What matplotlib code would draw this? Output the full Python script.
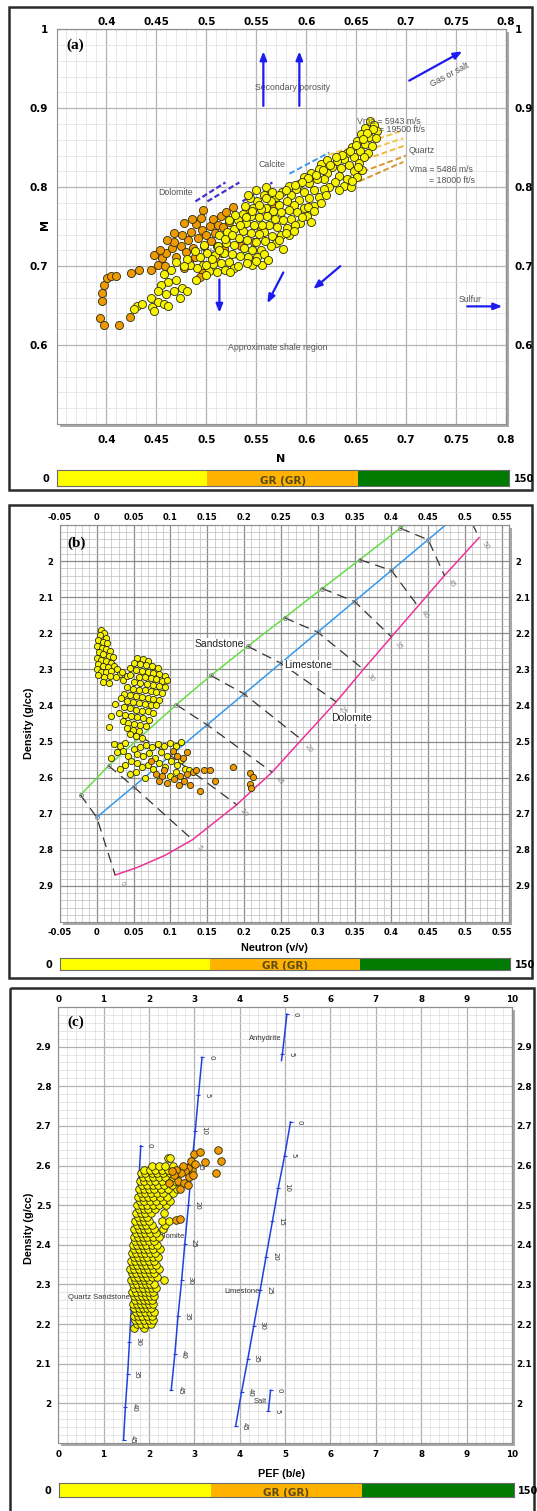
import matplotlib
matplotlib.use("Agg")
import matplotlib.pyplot as plt
from matplotlib.patches import Rectangle
from matplotlib.ticker import MultipleLocator

W, H = 537, 1511
SANS = "Liberation Sans"

# ---------------- (a) M-N crossplot ----------------
a_yellow = [
    (0.664, 0.884), (0.668, 0.879), (0.659, 0.875), (0.671, 0.871), (0.655, 0.867), (0.663, 0.864),
    (0.670, 0.862), (0.651, 0.858), (0.659, 0.855), (0.666, 0.852), (0.646, 0.851), (0.654, 0.846),
    (0.662, 0.843), (0.641, 0.843),
    (0.648, 0.838), (0.638, 0.836), (0.631, 0.833), (0.643, 0.828), (0.653, 0.831), (0.635, 0.824),
    (0.626, 0.826), (0.648, 0.820), (0.621, 0.818), (0.633, 0.814), (0.641, 0.810), (0.629, 0.806),
    (0.618, 0.810), (0.651, 0.813), (0.623, 0.800), (0.638, 0.802), (0.615, 0.829), (0.621, 0.835),
    (0.645, 0.800), (0.656, 0.822),
    (0.613, 0.823), (0.605, 0.818), (0.598, 0.813), (0.611, 0.810), (0.603, 0.805), (0.593, 0.804),
    (0.618, 0.798), (0.608, 0.796), (0.598, 0.794), (0.590, 0.798), (0.613, 0.788), (0.603, 0.786),
    (0.593, 0.784), (0.585, 0.790), (0.608, 0.776), (0.598, 0.774), (0.588, 0.778), (0.615, 0.780),
    (0.601, 0.764), (0.591, 0.768), (0.605, 0.756), (0.594, 0.755),
    (0.583, 0.802), (0.576, 0.794), (0.570, 0.788), (0.581, 0.783), (0.573, 0.778), (0.565, 0.782),
    (0.583, 0.771), (0.575, 0.768), (0.567, 0.770), (0.560, 0.774), (0.585, 0.760), (0.577, 0.758),
    (0.569, 0.760), (0.561, 0.763), (0.581, 0.748), (0.571, 0.750), (0.563, 0.752), (0.575, 0.740),
    (0.566, 0.738), (0.558, 0.743), (0.583, 0.739), (0.570, 0.729),
    (0.558, 0.790), (0.551, 0.782), (0.544, 0.786), (0.555, 0.772), (0.547, 0.774), (0.539, 0.776),
    (0.553, 0.762), (0.545, 0.764), (0.537, 0.766), (0.556, 0.752), (0.548, 0.752), (0.540, 0.755),
    (0.532, 0.758), (0.553, 0.741), (0.545, 0.742), (0.537, 0.745), (0.559, 0.732), (0.550, 0.731),
    (0.541, 0.733), (0.533, 0.735), (0.555, 0.721), (0.546, 0.721), (0.538, 0.723), (0.551, 0.711),
    (0.542, 0.711), (0.534, 0.713), (0.556, 0.702), (0.546, 0.701),
    (0.529, 0.765), (0.523, 0.758), (0.528, 0.747), (0.521, 0.743), (0.513, 0.739), (0.528, 0.727),
    (0.520, 0.729), (0.512, 0.726), (0.526, 0.715), (0.518, 0.717), (0.509, 0.714), (0.523, 0.705),
    (0.515, 0.704), (0.507, 0.703), (0.519, 0.695), (0.511, 0.693), (0.503, 0.694), (0.528, 0.698),
    (0.501, 0.717),
    (0.498, 0.727), (0.494, 0.711), (0.489, 0.719), (0.497, 0.701), (0.491, 0.697), (0.484, 0.701),
    (0.490, 0.682), (0.481, 0.709), (0.500, 0.689),
    (0.478, 0.700), (0.470, 0.705), (0.465, 0.695), (0.458, 0.690), (0.462, 0.680), (0.455, 0.676),
    (0.470, 0.682), (0.476, 0.672), (0.468, 0.668), (0.460, 0.665), (0.452, 0.668), (0.445, 0.660),
    (0.452, 0.655), (0.458, 0.652), (0.446, 0.648), (0.462, 0.650), (0.431, 0.650), (0.428, 0.646),
    (0.436, 0.652), (0.448, 0.643), (0.481, 0.669), (0.474, 0.660),
    (0.550, 0.797), (0.542, 0.790), (0.560, 0.800),
    (0.667, 0.874), (0.661, 0.869), (0.657, 0.861), (0.650, 0.853), (0.644, 0.846), (0.636, 0.841),
    (0.630, 0.838), (0.624, 0.828), (0.617, 0.822), (0.610, 0.815), (0.602, 0.811), (0.596, 0.807),
    (0.589, 0.803), (0.580, 0.797), (0.573, 0.790), (0.566, 0.794), (0.560, 0.786), (0.553, 0.778),
    (0.546, 0.770), (0.540, 0.762), (0.534, 0.752), (0.526, 0.740), (0.519, 0.734), (0.513, 0.720),
    (0.506, 0.709), (0.500, 0.702), (0.602, 0.775), (0.596, 0.762), (0.589, 0.752), (0.580, 0.742),
    (0.573, 0.733), (0.565, 0.726), (0.558, 0.715), (0.550, 0.706), (0.541, 0.704), (0.532, 0.700),
    (0.524, 0.692), (0.562, 0.708), (0.577, 0.722), (0.588, 0.744), (0.608, 0.770), (0.620, 0.790),
    (0.633, 0.796), (0.646, 0.808), (0.652, 0.826), (0.658, 0.838),
]
a_orange = [
    (0.394, 0.634), (0.398, 0.626), (0.413, 0.626), (0.396, 0.666), (0.396, 0.656), (0.398, 0.676),
    (0.401, 0.685), (0.405, 0.688), (0.410, 0.688), (0.425, 0.691), (0.433, 0.695), (0.424, 0.636),
    (0.445, 0.695), (0.452, 0.702), (0.456, 0.710), (0.448, 0.714), (0.460, 0.716), (0.454, 0.721),
    (0.466, 0.723), (0.459, 0.700), (0.470, 0.712), (0.475, 0.726), (0.468, 0.731), (0.480, 0.718),
    (0.482, 0.733), (0.487, 0.723), (0.476, 0.739), (0.485, 0.743), (0.492, 0.736), (0.496, 0.746),
    (0.490, 0.753), (0.500, 0.739), (0.504, 0.751), (0.495, 0.761), (0.507, 0.760), (0.512, 0.752),
    (0.509, 0.742), (0.515, 0.763), (0.520, 0.768), (0.517, 0.750), (0.527, 0.775), (0.523, 0.756),
    (0.483, 0.705), (0.489, 0.712), (0.478, 0.698), (0.497, 0.692), (0.502, 0.700), (0.494, 0.686),
    (0.509, 0.708), (0.516, 0.716), (0.511, 0.725), (0.520, 0.735), (0.518, 0.722), (0.498, 0.725),
    (0.505, 0.732), (0.478, 0.755), (0.486, 0.760), (0.497, 0.771), (0.468, 0.742), (0.461, 0.733),
    (0.540, 0.770), (0.548, 0.730), (0.535, 0.725), (0.555, 0.748), (0.568, 0.778),
]
a_xticks = [0.4, 0.45, 0.5, 0.55, 0.6, 0.65, 0.7, 0.75, 0.8]
a_yticks = [0.6, 0.7, 0.8, 0.9, 1.0]
a_arrows = [
    ((0.557, 0.903), (0.557, 0.972)),
    ((0.593, 0.903), (0.593, 0.972)),
    ((0.703, 0.935), (0.756, 0.972)),
    ((0.761, 0.649), (0.796, 0.649)),
    ((0.513, 0.683), (0.513, 0.641)),
    ((0.577, 0.692), (0.561, 0.653)),
    ((0.634, 0.700), (0.607, 0.671)),
]
a_dolomite_lines = [((0.489, 0.519), (0.782, 0.806)),
                    ((0.501, 0.533), (0.782, 0.806)),
                    ((0.536, 0.566), (0.782, 0.806))]
a_calcite_line = ((0.583, 0.623), (0.817, 0.844))
a_quartz_lines = [((0.622, 0.695), (0.841, 0.871)),
                  ((0.628, 0.697), (0.833, 0.862)),
                  ((0.634, 0.699), (0.824, 0.853)),
                  ((0.640, 0.700), (0.812, 0.840)),
                  ((0.645, 0.697), (0.803, 0.832))]
a_quartz_colors = ["#f6c449", "#f6c449", "#f2b53c", "#d9962c", "#d9962c"]
a_anhydrite_line = ((0.512, 0.545), (0.702, 0.718))

# ---------------- (b) density-neutron ----------------
b_yellow = [
    (0.006, 2.190), (0.010, 2.198), (0.004, 2.205), (0.012, 2.212), (0.002, 2.218), (0.008, 2.224),
    (0.014, 2.228), (0.001, 2.235), (0.007, 2.240), (0.013, 2.244), (0.018, 2.250), (0.003, 2.252),
    (0.009, 2.258), (0.016, 2.262), (0.022, 2.266), (0.000, 2.268), (0.006, 2.274), (0.012, 2.278),
    (0.019, 2.282), (0.002, 2.286), (0.008, 2.292), (0.015, 2.294), (0.024, 2.290), (0.000, 2.300),
    (0.006, 2.306), (0.013, 2.308), (0.020, 2.304), (0.028, 2.300), (0.032, 2.312), (0.002, 2.316),
    (0.010, 2.320), (0.018, 2.318), (0.026, 2.322), (0.036, 2.330), (0.008, 2.334), (0.016, 2.338),
    (0.041, 2.318), (0.034, 2.306),
    (0.055, 2.268), (0.063, 2.272), (0.070, 2.276), (0.050, 2.282), (0.059, 2.285), (0.067, 2.288),
    (0.075, 2.290), (0.083, 2.295), (0.045, 2.296), (0.053, 2.302), (0.061, 2.305), (0.069, 2.306),
    (0.077, 2.310), (0.085, 2.312), (0.092, 2.318), (0.045, 2.315), (0.057, 2.320), (0.065, 2.322),
    (0.073, 2.325), (0.081, 2.328), (0.089, 2.332), (0.096, 2.330), (0.051, 2.334), (0.059, 2.338),
    (0.068, 2.340), (0.076, 2.343), (0.084, 2.346), (0.092, 2.350), (0.041, 2.350), (0.049, 2.354),
    (0.057, 2.356), (0.065, 2.358), (0.073, 2.360), (0.081, 2.364), (0.089, 2.366), (0.037, 2.368),
    (0.045, 2.372), (0.053, 2.374), (0.061, 2.376), (0.069, 2.378), (0.077, 2.382), (0.085, 2.384),
    (0.041, 2.388), (0.049, 2.390), (0.057, 2.393), (0.065, 2.396), (0.073, 2.398), (0.081, 2.400),
    (0.025, 2.395), (0.033, 2.380), (0.037, 2.405), (0.045, 2.408), (0.053, 2.412), (0.061, 2.414),
    (0.069, 2.416), (0.077, 2.420), (0.030, 2.420), (0.039, 2.426), (0.047, 2.430), (0.055, 2.432),
    (0.063, 2.436), (0.071, 2.440), (0.035, 2.444), (0.043, 2.448), (0.051, 2.450), (0.059, 2.454),
    (0.067, 2.458), (0.041, 2.462), (0.049, 2.468), (0.057, 2.470), (0.045, 2.480), (0.053, 2.486),
    (0.061, 2.490), (0.020, 2.430), (0.016, 2.460),
    (0.023, 2.508), (0.031, 2.512), (0.039, 2.504), (0.027, 2.530), (0.035, 2.525), (0.043, 2.540),
    (0.051, 2.520), (0.059, 2.515), (0.067, 2.510), (0.075, 2.516), (0.083, 2.508), (0.091, 2.512),
    (0.099, 2.505), (0.107, 2.512), (0.115, 2.500), (0.055, 2.535), (0.063, 2.540), (0.071, 2.532),
    (0.079, 2.545), (0.087, 2.530), (0.095, 2.540), (0.047, 2.555), (0.055, 2.560), (0.039, 2.565),
    (0.031, 2.575), (0.045, 2.590), (0.053, 2.585), (0.061, 2.570), (0.069, 2.565), (0.077, 2.575),
    (0.085, 2.560), (0.093, 2.570), (0.101, 2.555), (0.109, 2.565), (0.115, 2.550), (0.107, 2.585),
    (0.099, 2.595), (0.120, 2.575), (0.065, 2.600), (0.019, 2.545), (0.125, 2.580),
]
b_orange = [
    (0.073, 2.555), (0.081, 2.590), (0.089, 2.595), (0.085, 2.610), (0.095, 2.615), (0.105, 2.605),
    (0.113, 2.595), (0.119, 2.610), (0.111, 2.620), (0.123, 2.590), (0.131, 2.585), (0.117, 2.545),
    (0.123, 2.530), (0.103, 2.525), (0.109, 2.540), (0.135, 2.580), (0.145, 2.580), (0.154, 2.580),
    (0.160, 2.610), (0.140, 2.636), (0.185, 2.570), (0.208, 2.588), (0.212, 2.598), (0.208, 2.618),
    (0.209, 2.630), (0.091, 2.580), (0.127, 2.620),
]
b_xticks = [-0.05, 0, 0.05, 0.1, 0.15, 0.2, 0.25, 0.3, 0.35, 0.4, 0.45, 0.5, 0.55]
b_yticks = [2.0, 2.1, 2.2, 2.3, 2.4, 2.5, 2.6, 2.7, 2.8, 2.9]
b_por = [0, 5, 10, 15, 20, 25, 30, 35, 40, 45, 50]
b_sand = [(-0.022, 2.648), (0.016, 2.567), (0.060, 2.486), (0.108, 2.398), (0.155, 2.317),
          (0.205, 2.236), (0.255, 2.157), (0.306, 2.076), (0.357, 1.996), (0.412, 1.909), None]
b_lime = [(0.00, 2.710), (0.05, 2.625), (0.10, 2.539), (0.15, 2.454), (0.20, 2.368), (0.25, 2.283),
          (0.30, 2.197), (0.35, 2.112), (0.40, 2.026), (0.45, 1.941), (0.50, 1.855)]
b_dolo = [(0.025, 2.870), (0.130, 2.772), (0.190, 2.675), (0.238, 2.585), (0.278, 2.495),
          (0.325, 2.390), (0.362, 2.300), (0.400, 2.210), (0.436, 2.125), (0.472, 2.040), (0.519, 1.935)]
b_sand_line_n = [-0.022, 0.016, 0.060, 0.108, 0.155, 0.205, 0.255, 0.306, 0.357, 0.412, 0.418]
b_sand_line_d = [2.648, 2.567, 2.486, 2.398, 2.317, 2.236, 2.157, 2.076, 1.996, 1.909, 1.900]
b_lime_line_n = [0.00, 0.48]
b_lime_line_d = [2.710, 1.889]
b_dolo_line_n = [0.025, 0.056, 0.093, 0.130, 0.190, 0.238, 0.278, 0.325, 0.362, 0.400, 0.436, 0.472, 0.519]
b_dolo_line_d = [2.870, 2.848, 2.815, 2.772, 2.675, 2.585, 2.495, 2.390, 2.300, 2.210, 2.125, 2.040, 1.935]

# ---------------- (c) density-PEF ----------------
c_yel_den = [2.19, 2.20, 2.21, 2.22, 2.23, 2.24, 2.25, 2.26, 2.27, 2.28, 2.29, 2.30, 2.31, 2.32,
             2.33, 2.34, 2.35, 2.36, 2.37, 2.38, 2.39, 2.40, 2.41, 2.42, 2.43, 2.44, 2.45, 2.46,
             2.47, 2.48, 2.49, 2.50, 2.51, 2.52, 2.53, 2.54, 2.55, 2.56, 2.57, 2.58, 2.59, 2.60, 2.62]
c_yel_pef = [
    [1.68, 1.88], [1.74, 1.82, 1.94, 2.04], [1.70, 1.78, 1.90, 2.00, 2.10],
    [1.66, 1.76, 1.85, 1.96, 2.06], [1.72, 1.81, 1.92, 2.02, 2.12], [1.68, 1.78, 1.87, 1.96, 2.05],
    [1.64, 1.74, 1.83, 1.92, 2.01, 2.10], [1.70, 1.80, 1.89, 1.98, 2.07],
    [1.66, 1.76, 1.85, 1.94, 2.03, 2.12], [1.62, 1.72, 1.82, 1.91, 2.00, 2.09],
    [1.68, 1.78, 1.87, 1.97, 2.06, 2.16], [1.64, 1.74, 1.84, 1.94, 2.03, 2.12],
    [1.60, 1.70, 1.80, 1.90, 2.00, 2.34], [1.66, 1.76, 1.86, 1.96, 2.06, 2.17],
    [1.62, 1.72, 1.82, 1.92, 2.02, 2.12], [1.58, 1.68, 1.78, 1.88, 1.98, 2.10, 2.22],
    [1.64, 1.74, 1.84, 1.94, 2.04, 2.16], [1.60, 1.70, 1.80, 1.90, 2.00, 2.12],
    [1.66, 1.76, 1.86, 1.96, 2.08, 2.20], [1.62, 1.72, 1.82, 1.92, 2.02, 2.14],
    [1.68, 1.78, 1.88, 1.98, 2.10, 2.24], [1.64, 1.74, 1.84, 1.94, 2.06, 2.18],
    [1.70, 1.80, 1.90, 2.00, 2.12], [1.66, 1.76, 1.86, 1.96, 2.08, 2.22],
    [1.72, 1.82, 1.92, 2.02, 2.16], [1.68, 1.78, 1.88, 1.98, 2.12, 2.30],
    [1.74, 1.84, 1.94, 2.06, 2.36], [1.70, 1.80, 1.90, 2.00, 2.28, 2.44],
    [1.76, 1.86, 1.96], [1.72, 1.82, 1.92, 2.04, 2.34], [1.78, 1.88, 1.98, 2.14],
    [1.74, 1.84, 1.96, 2.08, 2.22, 2.37], [1.80, 1.90, 2.02, 2.16, 2.30, 2.47],
    [1.76, 1.86, 1.98, 2.10, 2.24, 2.40], [1.82, 1.92, 2.04, 2.18, 2.32, 2.54],
    [1.78, 1.88, 2.00, 2.12, 2.26, 2.42, 2.62], [1.84, 1.96, 2.08, 2.20, 2.34, 2.50],
    [1.80, 1.90, 2.02, 2.14, 2.28, 2.44, 2.58], [1.86, 1.98, 2.10, 2.22, 2.36, 2.52],
    [1.82, 1.92, 2.06, 2.18, 2.32, 2.46, 2.64], [1.88, 2.02, 2.14, 2.28, 2.42],
    [2.07, 2.22, 2.36, 2.54], [2.42, 2.47],
]
c_orange = [
    (3.52, 2.640), (3.58, 2.612), (3.48, 2.580), (3.00, 2.628), (3.23, 2.610), (3.13, 2.633),
    (2.60, 2.462), (2.69, 2.466), (2.90, 2.600), (2.95, 2.590), (2.85, 2.595), (2.80, 2.585),
    (2.75, 2.598), (2.88, 2.570), (2.70, 2.580), (2.65, 2.560), (2.78, 2.555), (2.60, 2.590),
    (2.55, 2.575), (2.92, 2.612), (3.02, 2.605), (2.68, 2.540), (2.85, 2.550), (2.45, 2.555),
    (2.50, 2.585), (2.98, 2.575),
]
c_xticks = [0, 1, 2, 3, 4, 5, 6, 7, 8, 9, 10]
c_yticks = [2.0, 2.1, 2.2, 2.3, 2.4, 2.5, 2.6, 2.7, 2.8, 2.9]
c_por_labels = ["0", "5", "10", "15", "20", "25", "30", "35", "40", "45"]
c_sand_pef = [1.82, 1.78, 1.74, 1.69, 1.65, 1.61, 1.57, 1.53, 1.48, 1.44]
c_sand_den = [2.650, 2.568, 2.485, 2.403, 2.320, 2.238, 2.155, 2.073, 1.990, 1.908]
c_dolo_pef = [3.17, 3.09, 3.02, 2.94, 2.87, 2.79, 2.72, 2.64, 2.57, 2.49]
c_dolo_den = [2.873, 2.777, 2.688, 2.597, 2.500, 2.403, 2.310, 2.220, 2.124, 2.033]
c_lime_pef = [5.12, 4.99, 4.85, 4.72, 4.58, 4.45, 4.31, 4.18, 4.04, 3.91]
c_lime_den = [2.710, 2.625, 2.544, 2.459, 2.370, 2.285, 2.196, 2.113, 2.028, 1.942]
c_anhy_pef = [5.04, 4.94]
c_anhy_den = [2.982, 2.881]
c_salt_pef = [4.68, 4.63]
c_salt_den = [2.033, 1.980]

# GR colour bar
gr_lefts = [0, 50, 100]
gr_widths = [50, 50, 50]
gr_colors = ["#ffff00", "#ffb300", "#007a00"]

YEL, ORA = "#f8f400", "#ee9a00"
BLUE = "#1c1cf0"
TXT = "#555555"

fig = plt.figure(figsize=(W / 100, H / 100), dpi=100)


def px_axes(l, t, r, b, **kw):
    return fig.add_axes([l / W, 1 - b / H, (r - l) / W, (b - t) / H], **kw)


# frames and drop shadows drawn in pixel space
bg = px_axes(0, 0, W, H, zorder=-10)
bg.set_xlim(0, W)
bg.set_ylim(H, 0)
bg.axis("off")
for l, t, r, b in [(8.5, 7, 532, 490), (8.5, 505, 532, 978), (10, 988, 534, 1530)]:
    bg.add_patch(Rectangle((l, t), r - l, b - t, fill=False, ec="#2b2b2b", lw=1.8))

A = (56.5, 29.3, 506.2, 424)
B = (59.9, 525, 509.3, 922)
C = (58.2, 1007, 512, 1443)
for l, t, r, b in [A, B, C]:
    bg.add_patch(Rectangle((l + 3, t + 3), r - l, b - t, fc="#a8a8a8", ec="none"))


def setup(ax, xlim, ylim, xt, yt, xminor, yminor, fs, pads, gmaj, gmin):
    ax.set_xlim(*xlim)
    ax.set_ylim(*ylim)
    xl = [f"{v:g}" for v in xt]
    yl = [f"{v:g}" for v in yt]
    ax.set_xticks(xt, xl, fontweight="bold", fontsize=fs)
    ax.set_yticks(yt, yl, fontweight="bold", fontsize=fs)
    ax.xaxis.set_minor_locator(MultipleLocator(xminor))
    ax.yaxis.set_minor_locator(MultipleLocator(yminor))
    ax.grid(which="minor", color=gmin, lw=0.5)
    ax.grid(which="major", color=gmaj, lw=0.9)
    ax.set_axisbelow(True)
    ax.tick_params(which="both", length=0)
    ax.tick_params(axis="y", pad=pads[0])
    ax.tick_params(axis="x", pad=pads[3])
    top = ax.secondary_xaxis("top")
    top.set_xticks(xt, xl, fontweight="bold", fontsize=fs)
    top.tick_params(length=0, pad=pads[2])
    right = ax.secondary_yaxis("right")
    right.set_yticks(yt, yl, fontweight="bold", fontsize=fs)
    right.tick_params(length=0, pad=pads[1])
    for s in list(ax.spines.values()) + [top.spines["top"], right.spines["right"]]:
        s.set_color("#8f8f8f")


def gr_bar(l, t, r, b):
    cax = px_axes(l, t, r, b)
    cax.barh([0.5] * 3, gr_widths, left=gr_lefts, height=1, color=gr_colors)
    cax.set_xlim(0, 150)
    cax.set_ylim(0, 1)
    cax.set_xticks([])
    cax.set_yticks([])
    for s in cax.spines.values():
        s.set_color("#6b6b6b")
        s.set_linewidth(0.8)
    cax.text(75, 0.3, "GR (GR)", ha="center", va="center", fontsize=7.5,
             fontweight="bold", color="#5b4b12", clip_on=True)
    cax.text(-2.5, 0.45, "0", ha="right", va="center", fontsize=7, fontweight="bold")
    cax.text(151.5, 0.45, "150", ha="left", va="center", fontsize=7, fontweight="bold")


def scatter(ax, pts, color, s):
    ax.scatter([p[0] for p in pts], [p[1] for p in pts], s=s, c=color,
               edgecolors="#2a2a10", linewidths=0.6, zorder=3)


# ---------------- panel (a) ----------------
ax = px_axes(*A)
setup(ax, (0.35, 0.8), (0.5, 1.0), a_xticks, a_yticks, 0.01, 0.02, 7.5,
      (6, 6, 1.5, 8), "#b4b4b4", "#dedede")
for (xs, ys) in a_dolomite_lines:
    ax.plot(xs, ys, color="#4433cc", lw=1.6, ls=(0, (2.5, 1.2)), zorder=2)
ax.plot(*a_calcite_line, color="#3d9be9", lw=1.4, ls=(0, (3, 1.5)), zorder=2)
for (xs, ys), col in zip(a_quartz_lines, a_quartz_colors):
    ax.plot(xs, ys, color=col, lw=1.4, ls=(0, (3, 1.5)), zorder=2)
ax.plot(*a_anhydrite_line, color="#7de07d", lw=1.4, ls=(0, (3, 1.5)), zorder=2)
ax.text(0.482, 0.717, "Anhydrite", fontsize=6.3, family=SANS, color=TXT, va="center", zorder=2.5)
scatter(ax, a_orange, ORA, 34)
scatter(ax, a_yellow, YEL, 34)
for (x0, y0), (x1, y1) in a_arrows:
    ax.annotate("", xy=(x1, y1), xytext=(x0, y0), zorder=5,
                arrowprops=dict(arrowstyle="-|>,head_length=0.5,head_width=0.2",
                                color=BLUE, lw=1.6, shrinkA=0, shrinkB=0))
kw = dict(fontsize=6.3, family=SANS, color=TXT, va="center", zorder=4)
ax.text(0.586, 0.9265, "Secondary porosity", ha="center", **kw)
ax.text(0.743, 0.942, "Gas or salt", ha="center", rotation=28, **kw)
ax.text(0.651, 0.883, "Vma = 5943 m/s", **kw)
ax.text(0.6726, 0.8725, "= 19500 ft/s", **kw)
ax.text(0.7027, 0.847, "Quartz", **kw)
ax.text(0.7027, 0.8228, "Vma = 5486 m/s", **kw)
ax.text(0.7227, 0.809, "= 18000 ft/s", **kw)
ax.text(0.5523, 0.8282, "Calcite", **kw)
ax.text(0.452, 0.7932, "Dolomite", **kw)
ax.text(0.7528, 0.6573, "Sulfur", **kw)
ax.text(0.5217, 0.5975, "Approximate shale region", **kw)
ax.text(0.042, 0.96, "(a)", transform=ax.transAxes, ha="center", va="center",
        fontsize=11, fontweight="bold", family="Liberation Serif")
fig.text(45.2 / W, 1 - 225 / H, "M", rotation=90, ha="center", va="center",
         fontsize=8, fontweight="bold")
fig.text(281 / W, 1 - 459.3 / H, "N", ha="center", va="center", fontsize=8, fontweight="bold")
gr_bar(56.5, 470, 509.3, 486)

# ---------------- panel (b) ----------------
ax = px_axes(*B)
setup(ax, (-0.05, 0.56), (3.0, 1.9), b_xticks, b_yticks, 0.01, 0.02, 6,
      (4.5, 4.5, 2, 4), "#8c8c8c", "#bdbdbd")
ax.plot(b_sand_line_n, b_sand_line_d, color="#66dd44", lw=1.1, zorder=2)
ax.plot(b_lime_line_n, b_lime_line_d, color="#3399ee", lw=1.1, zorder=2)
ax.plot(b_dolo_line_n, b_dolo_line_d, color="#ee3399", lw=1.1, zorder=2)
for por, ps, pl, pd in zip(b_por, b_sand, b_lime, b_dolo):
    pts = [p for p in (ps, pl, pd) if p is not None]
    ax.plot([p[0] for p in pts], [p[1] for p in pts], color="#333333", lw=0.9,
            dashes=(8, 5), zorder=2)
    ax.plot([p[0] for p in pts[:-1]], [p[1] for p in pts[:-1]], ls="none", marker="o",
            ms=3, mfc="none", mec="#888888", mew=0.6, zorder=2)
    ax.annotate(str(por), xy=pd, xytext=(5, -6), textcoords="offset points",
                fontsize=5, color="#888888", rotation=-55, ha="center", va="center", zorder=2)
kwb = dict(fontsize=7.5, family=SANS, color="#222222", va="center", zorder=2.5,
           bbox=dict(fc="white", ec="none", pad=0.3))
ax.text(0.2, 2.229, "Sandstone", ha="right", **kwb)
ax.text(0.254, 2.289, "Limestone", ha="left", **kwb)
ax.text(0.318, 2.435, "Dolomite", ha="left", **kwb)
scatter(ax, b_yellow, YEL, 20)
scatter(ax, b_orange, ORA, 20)
ax.text(0.036, 0.954, "(b)", transform=ax.transAxes, ha="center", va="center",
        fontsize=11, fontweight="bold", family="Liberation Serif")
fig.text(29 / W, 1 - 723 / H, "Density (g/cc)", rotation=90, ha="center", va="center",
         fontsize=7.8, fontweight="bold", family=SANS)
fig.text(274 / W, 1 - 948.3 / H, "Neutron (v/v)", ha="center", va="center",
         fontsize=7.8, fontweight="bold", family=SANS)
gr_bar(59.9, 958, 510.3, 970)

# ---------------- panel (c) ----------------
ax = px_axes(*C)
setup(ax, (0, 10), (1.9, 3.0), c_xticks, c_yticks, 0.2, 0.02, 6.3,
      (5, 3, 2, 5), "#b0b0b0", "#dcdcdc")
lines_c = [(c_sand_pef, c_sand_den, c_por_labels), (c_dolo_pef, c_dolo_den, c_por_labels),
           (c_lime_pef, c_lime_den, c_por_labels), (c_anhy_pef, c_anhy_den, ["0", "5"]),
           (c_salt_pef, c_salt_den, ["0", "5"])]
for xs, ys, labs in lines_c:
    ax.plot(xs, ys, color="#2040e0", lw=1.1, marker="_", ms=3, mew=0.8, zorder=2)
    for x, y, lab in zip(xs, ys, labs):
        ax.annotate(lab, xy=(x, y), xytext=(6.5, 0), textcoords="offset points", fontsize=5,
                    color="#333333", rotation=270, ha="center", va="center", zorder=2)
ax.plot([4.94, 4.92], [2.881, 2.865], color="#2040e0", lw=1.1, zorder=2)
kwc = dict(fontsize=5.5, family=SANS, color="#333333", va="center", ha="right", zorder=2)
ax.text(1.58, 2.267, "Quartz Sandstone", **kwc)
ax.text(2.78, 2.42, "Dolomite", **kwc)
ax.text(4.45, 2.283, "Limestone", **kwc)
ax.text(4.92, 2.92, "Anhydrite", **kwc)
ax.text(4.6, 2.005, "Salt", **kwc)
c_yellow = [(p, d) for d, row in zip(c_yel_den, c_yel_pef) for p in row]
scatter(ax, c_yellow, YEL, 30)
scatter(ax, c_orange, ORA, 30)
ax.text(0.039, 0.966, "(c)", transform=ax.transAxes, ha="center", va="center",
        fontsize=11, fontweight="bold", family="Liberation Serif")
fig.text(29 / W, 1 - 1228 / H, "Density (g/cc)", rotation=90, ha="center", va="center",
         fontsize=7.8, fontweight="bold", family=SANS)
fig.text(281.5 / W, 1 - 1474 / H, "PEF (b/e)", ha="center", va="center",
         fontsize=7.8, fontweight="bold", family=SANS)
gr_bar(58.9, 1483, 513.8, 1497)

fig.savefig("out.png", dpi=100)
